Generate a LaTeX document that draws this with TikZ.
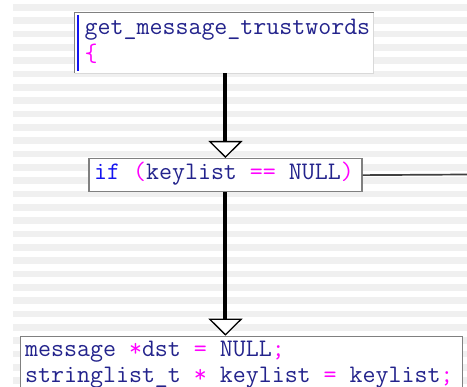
\documentclass[tikz,border=0pt]{standalone}
\usepackage{tikz}
\usetikzlibrary{arrows.meta, positioning}
\definecolor{codenavy}{RGB}{35,35,140}
\definecolor{codekey}{RGB}{20,20,240}
\definecolor{codeop}{RGB}{255,0,255}
\definecolor{stripe}{RGB}{240,240,240}
\definecolor{frame}{RGB}{128,128,128}
\newcommand{\op}[1]{\textcolor{codeop}{#1}}
\newcommand{\kw}[1]{\textcolor{codekey}{#1}}

\begin{document}
\begin{tikzpicture}[x=1pt, y=-1pt,
    code/.style={font=\fontsize{25.2}{27}\selectfont\ttfamily, text=codenavy, inner sep=0pt, anchor=base west},
    box/.style={draw=frame, fill=white, line width=1.3pt, inner sep=0pt, anchor=north west},
    flow/.style={line width=4pt, -{Triangle[width=34pt, length=17pt, fill=white, line width=1.3pt]}}]
    \useasboundingbox (0,0) rectangle (467,387);
    \fill[white] (0,0) rectangle (467,387);
    \foreach \k in {0,...,28}
        \fill[stripe] (13,4+13.333*\k) rectangle (467,10.7+13.333*\k);

    % function header
    \node[box, draw=none, minimum width=298pt, minimum height=59pt] (fnbox) at (74.5,13) {};
    \draw[frame, line width=1pt] (fnbox.south west) -- (fnbox.north west) -- (fnbox.north east);
    \draw[frame!30, line width=1pt] (fnbox.north east) -- (fnbox.south east) -- (fnbox.south west);
    \draw[codekey, line width=2pt] ([xshift=3.5pt,yshift=-2pt]fnbox.north west) -- ([xshift=3.5pt,yshift=2pt]fnbox.south west);
    \node[code] (fnname) at (84.5,35) {get\_message\_trustwords};
    \node[code] (fnbrace) at (84.5,62) {\op{\{}};

    % condition
    \node[box, minimum width=273pt, minimum height=33pt] (ifbox) at (88.3,158) {};
    \node[code] (iftext) at (94,180) {\kw{if} \op{(}keylist \op{==} NULL\op{)}};
    \coordinate (elseexit) at (467,174.5);
    \draw[black!75, line width=1.7pt] (ifbox.east) -- (elseexit);

    % body
    \node[box, minimum width=442pt, minimum height=70pt] (bodybox) at (20,335.7) {};
    \node[code] (bodyline1) at (25,357) {message \op{*}dst \op{=} NULL\op{;}};
    \node[code] (bodyline2) at (25,383) {stringlist\_t \op{*} keylist \op{=} keylist\op{;}};

    \draw[flow] (fnbox.south -| ifbox.north) -- (ifbox.north);
    \draw[flow] (ifbox.south) -- (ifbox.south |- bodybox.north);
\end{tikzpicture}
\end{document}
